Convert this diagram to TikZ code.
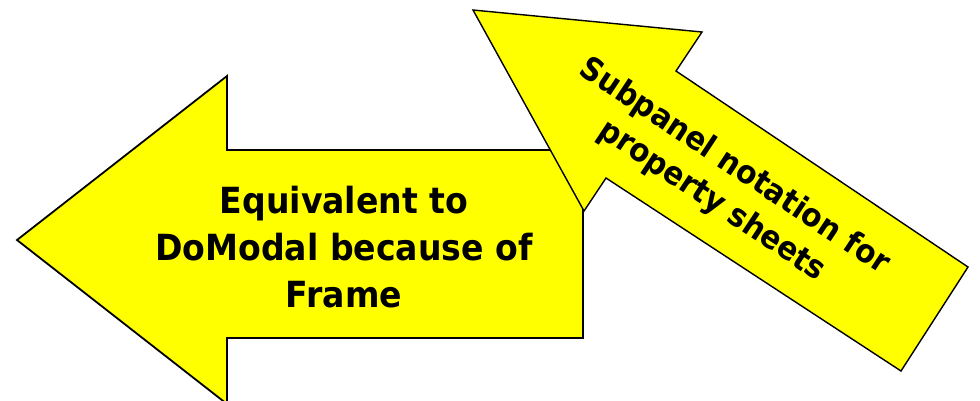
\documentclass[tikz,border=0pt]{standalone}
\usepackage{fontspec}
\setmainfont{DejaVu Sans}
\newfontfamily\arrowfont{DejaVu Sans}[FakeStretch=0.92]
\definecolor{arrowyellow}{RGB}{255,255,0}

\begin{document}
\begin{tikzpicture}[x=1pt, y=-1pt]
    \useasboundingbox (0,0) rectangle (980,400);
    \clip (0,0) rectangle (980,400);
    % Left block arrow
    \draw[line width=1.8pt, fill=arrowyellow, line join=miter]
        (17,240) -- (227,76) -- (227,150) -- (583,150) -- (583,338)
        -- (227,338) -- (227,404) -- cycle;
    \node[align=center, font=\arrowfont\fontsize{36}{47}\selectfont\bfseries] (leftlabel) at (344,247)
        {Equivalent to\\DoModal because of\\Frame};
    % Tilted block arrow
    \draw[line width=1.4pt, fill=arrowyellow, line join=miter]
        (473,10) -- (702,32) -- (676,71) -- (968,267) -- (901,371)
        -- (606,178) -- (584,211) -- cycle;
    \node[align=center, rotate=-33.5, font=\arrowfont\fontsize{32}{41}\selectfont\bfseries] (tiltlabel) at (723,184)
        {Subpanel notation for\\property sheets};
\end{tikzpicture}
\end{document}
